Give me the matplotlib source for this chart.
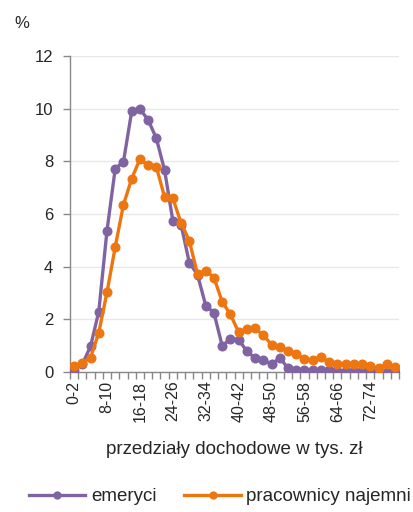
import matplotlib
matplotlib.use("Agg")
import matplotlib.pyplot as plt
import numpy as np

plt.rcParams['font.family'] = ['Liberation Sans', 'DejaVu Sans']

categories = [f"{2*i}-{2*i+2}" for i in range(40)]
emeryci = [0.1, 0.3, 0.98, 2.3, 5.37, 7.72, 7.98, 9.89, 9.98, 9.57,
           8.87, 7.66, 5.75, 5.6, 4.16, 3.7, 2.53, 2.25, 1.0, 1.26,
           1.24, 0.79, 0.54, 0.47, 0.3, 0.55, 0.15, 0.08, 0.1, 0.08,
           0.1, 0.1, 0.05, 0.05, 0.05, 0.03, 0.05, 0.05, 0.02, 0.02]
pracownicy = [0.22, 0.36, 0.55, 1.5, 3.03, 4.75, 6.35, 7.34, 8.08, 7.85,
              7.79, 6.64, 6.6, 5.66, 4.99, 3.72, 3.84, 3.59, 2.67, 2.19,
              1.52, 1.63, 1.66, 1.4, 1.05, 0.95, 0.82, 0.7, 0.5, 0.47,
              0.58, 0.37, 0.33, 0.33, 0.33, 0.3, 0.23, 0.15, 0.3, 0.2]
series_names = ["emeryci", "pracownicy najemni"]
yticks = [0, 2, 4, 6, 8, 10, 12]

purple = '#8064A2'
orange = '#EE7611'
textc = '#262626'

fig = plt.figure(figsize=(4.14, 5.12), dpi=100)
ax = fig.add_axes([0.169, 0.273, 0.795, 0.618])

x = np.arange(len(categories))
ax.plot(x, emeryci, color=purple, lw=2.4, marker='o', ms=6.2, label=series_names[0], zorder=3)
ax.plot(x, pracownicy, color=orange, lw=2.4, marker='o', ms=6.2, label=series_names[1], zorder=4)

ax.set_xlim(-0.5, len(categories) - 0.5)
ax.set_ylim(0, 12)
ax.set_yticks(yticks)
ax.set_yticklabels([str(v) for v in yticks], fontsize=12, color=textc)
ax.yaxis.grid(True, color='#e8e8e8', lw=1)
ax.set_axisbelow(True)

ax.set_xticks(x[::4])
ax.set_xticklabels(categories[::4], rotation=90, fontsize=11.5, color=textc)
ax.set_xticks(np.arange(-0.5, len(categories), 1), minor=True)
ax.tick_params(axis='x', which='major', length=0, pad=6)
ax.tick_params(axis='x', which='minor', length=5, color='#888888', width=1)
ax.tick_params(axis='y', length=5, color='#888888', width=1, pad=7)

for s in ['top', 'right']:
    ax.spines[s].set_visible(False)
for s in ['left', 'bottom']:
    ax.spines[s].set_color('#888888')
    ax.spines[s].set_linewidth(1)

ax.set_xlabel("przedziały dochodowe w tys. zł", fontsize=13.5, color=textc, labelpad=14)
fig.text(0.035, 0.955, "%", fontsize=12, color=textc, ha='left', va='center')

leg = fig.legend(loc='center left', bbox_to_anchor=(0.07, 0.03), ncol=2, frameon=False,
                 fontsize=13.5, handlelength=3.0, markerscale=0.8, columnspacing=1.5,
                 handletextpad=0.3, borderaxespad=0, borderpad=0)
for t in leg.get_texts():
    t.set_color(textc)

fig.savefig("out.png", dpi=100)
